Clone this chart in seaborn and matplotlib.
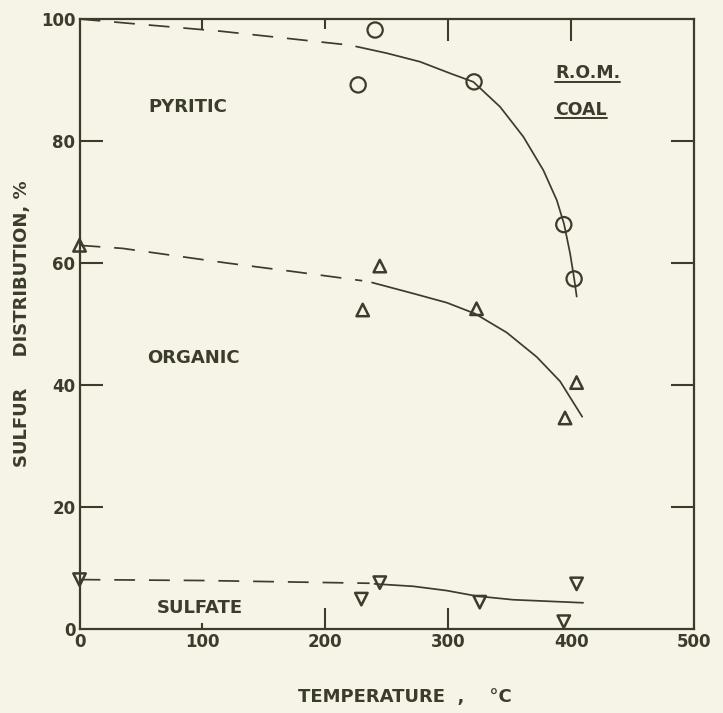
import matplotlib
matplotlib.use("Agg")
import matplotlib.pyplot as plt
from matplotlib.lines import Line2D
import seaborn as sns
import pandas as pd

# Measured sulfur forms in R.O.M. coal vs. treatment temperature
temp_pyritic = [226.7, 240.5, 321.0, 394.0, 402.4]
pyritic = [89.2, 98.2, 89.7, 66.3, 57.4]

temp_organic = [0, 230.4, 244.3, 323.0, 395.0, 404.4]
organic = [62.9, 52.3, 59.5, 52.5, 34.6, 40.4]

temp_sulfate = [0, 229.3, 244.3, 325.6, 394.0, 404.4]
sulfate = [8.1, 4.9, 7.6, 4.4, 1.2, 7.4]

# Hand-fitted trend curves: dashed extrapolation to room temperature, solid fit
pyr_ext_t = [0, 115, 221]
pyr_ext = [100.0, 98.0, 95.7]
pyr_fit_t = [225, 250, 277, 301.5, 320.4, 342.2, 361.1, 377.4, 388.3, 394.2, 399.1, 402.4, 404.5]
pyr_fit = [95.5, 94.4, 93.0, 91.1, 89.7, 85.6, 80.7, 75.2, 70.3, 66.4, 61.6, 57.5, 54.5]

org_ext_t = [0, 35, 120, 174, 230]
org_ext = [62.9, 62.4, 60.0, 58.6, 57.1]
org_fit_t = [238, 271.6, 298.8, 321.8, 347.6, 372, 391, 409]
org_fit = [56.8, 55.0, 53.5, 51.7, 48.6, 44.6, 40.6, 34.8]

sul_ext_t = [0, 100, 236]
sul_ext = [8.1, 7.95, 7.5]
sul_fit_t = [240, 271.6, 298.7, 323, 352.7, 409.7]
sul_fit = [7.4, 7.0, 6.3, 5.4, 4.8, 4.3]

x_ticks = [0, 100, 200, 300, 400, 500]
y_ticks = [0, 20, 40, 60, 80, 100]

INK = "#3c3c2c"
PAPER = "#f6f4e6"

sns.set_style("white", rc={"axes.facecolor": PAPER, "figure.facecolor": PAPER})
plt.rcParams["font.family"] = ["DejaVu Sans"]
plt.rcParams["font.weight"] = "bold"
plt.rcParams["text.color"] = INK
plt.rcParams["axes.labelcolor"] = INK
plt.rcParams["xtick.color"] = INK
plt.rcParams["ytick.color"] = INK

fig = plt.figure(figsize=(7.23, 7.13), dpi=100)
ax = fig.add_axes([0.110, 0.1178, 0.850, 0.8555])

# Trend curves
dash = (0, (12, 8))
curve_kw = dict(color=INK, linewidth=1.25, estimator=None, sort=False, ax=ax)
for t, v in [(pyr_ext_t, pyr_ext), (org_ext_t, org_ext), (sul_ext_t, sul_ext)]:
    sns.lineplot(data=pd.DataFrame({"t": t, "v": v}), x="t", y="v", linestyle=dash, **curve_kw)
for t, v in [(pyr_fit_t, pyr_fit), (org_fit_t, org_fit), (sul_fit_t, sul_fit)]:
    sns.lineplot(data=pd.DataFrame({"t": t, "v": v}), x="t", y="v", **curve_kw)

# Measured points
pts_kw = dict(color=INK, facecolor="none", edgecolor=INK, clip_on=False, zorder=4, ax=ax)
sns.scatterplot(data=pd.DataFrame({"t": temp_pyritic, "v": pyritic}), x="t", y="v",
                marker="o", s=120, linewidth=1.6, **pts_kw)
sns.scatterplot(data=pd.DataFrame({"t": temp_organic, "v": organic}), x="t", y="v",
                marker="^", s=80, linewidth=1.8, **pts_kw)
sns.scatterplot(data=pd.DataFrame({"t": temp_sulfate, "v": sulfate}), x="t", y="v",
                marker="v", s=80, linewidth=1.8, **pts_kw)

ax.set_xlim(0, 500)
ax.set_ylim(0, 100)
ax.set_xticks(x_ticks)
ax.set_yticks(y_ticks)
ax.set_xticklabels([str(v) for v in x_ticks], fontsize=12, fontweight="bold")
ax.set_yticklabels([str(v) for v in y_ticks], fontsize=12, fontweight="bold")

for side in ["left", "right", "top", "bottom"]:
    ax.spines[side].set_visible(True)
    ax.spines[side].set_color(INK)
    ax.spines[side].set_linewidth(1.6)

ax.tick_params(axis="both", which="major", direction="in", width=1.5,
               colors=INK, labelcolor=INK)
ax.tick_params(axis="x", top=True, bottom=True, pad=3)
ax.tick_params(axis="y", left=True, right=True, pad=3)

ax.set_xlabel("TEMPERATURE  ,    °C", fontsize=13, fontweight="bold")
ax.set_ylabel("SULFUR     DISTRIBUTION, %", fontsize=13, fontweight="bold")
ax.xaxis.label.set_va("center")
ax.yaxis.label.set_va("center")
ax.xaxis.set_label_coords(0.53, -0.111)
ax.yaxis.set_label_coords(-0.094, 0.50)

# Region labels
lab_kw = dict(fontsize=13, fontweight="bold", color=INK, ha="center", va="center")
ax.text(88.5, 85.5, "PYRITIC", **lab_kw)
ax.text(93, 44.5, "ORGANIC", **lab_kw)
ax.text(97.5, 3.4, "SULFATE", **lab_kw)
rom = ax.text(387, 91.1, "R.O.M.", fontsize=12.5, fontweight="bold", color=INK,
              ha="left", va="center")
coal = ax.text(387, 85.1, "COAL", fontsize=12.5, fontweight="bold", color=INK,
               ha="left", va="center")

# Individual tick lengths (points)
bottom_len = {0: 0, 100: 4.3, 200: 15, 300: 15, 400: 0, 500: 0}
top_len = {0: 0, 100: 7, 200: 7, 300: 16, 400: 16, 500: 0}
side_len = {0: 0, 20: 16.5, 40: 16.5, 60: 16.5, 80: 16.5, 100: 0}
for val, tick in zip(x_ticks, ax.xaxis.get_major_ticks()):
    tick.tick1line.set_markersize(bottom_len[val])
    tick.tick2line.set_markersize(top_len[val])
for val, tick in zip(y_ticks, ax.yaxis.get_major_ticks()):
    tick.tick1line.set_markersize(side_len[val])
    tick.tick2line.set_markersize(side_len[val])

# Underline the sample designation
fig.canvas.draw()
renderer = fig.canvas.get_renderer()
inv = fig.transFigure.inverted()
for txt in (rom, coal):
    bb = txt.get_window_extent(renderer).transformed(inv)
    yline = bb.y0 + 0.5 / 713
    fig.add_artist(Line2D([bb.x0, bb.x1], [yline, yline], transform=fig.transFigure,
                          color=INK, linewidth=1.4))

fig.savefig("out.png", dpi=100, facecolor=PAPER)
